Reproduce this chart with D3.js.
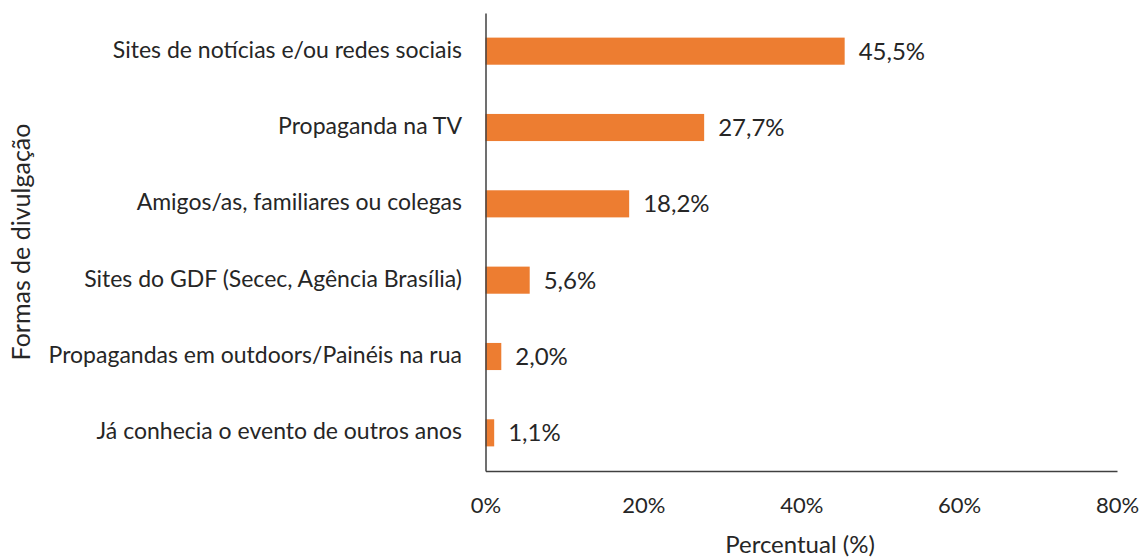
<!DOCTYPE html>
<html><head><meta charset="utf-8">
<script src="https://cdn.jsdelivr.net/npm/d3@7"></script>
<style>body{margin:0;background:#fff}svg{display:block}text{font-family:Lato,"Open Sans",sans-serif}</style>
</head><body><svg id="c" width="1143" height="558"></svg>
<script>
const categories = ["Sites de notícias e/ou redes sociais","Propaganda na TV","Amigos/as, familiares ou colegas","Sites do GDF (Secec, Agência Brasília)","Propagandas em outdoors/Painéis na rua","Já conhecia o evento de outros anos"];
const values = [45.5, 27.7, 18.2, 5.6, 2.0, 1.1];
const xTicks = [0, 20, 40, 60, 80];
const xTitle = "Percentual (%)";
const yTitle = "Formas de divulgação";

const svg = d3.select("#c");
const pLeft = 485.5, pRight = 1117, pTop = 13, pBottom = 471;
const x = d3.scaleLinear().domain([0, 80]).range([pLeft, pRight]);
const y = d3.scaleBand().domain(categories).range([pTop, pBottom]).paddingInner(0.645).paddingOuter(0.3225);
const fmt = v => v.toFixed(1).replace(".", ",") + "%";
const txt = "#262626";

svg.selectAll("rect.bar").data(values).enter().append("rect")
  .attr("x", x(0)).attr("y", (d,i) => y(categories[i]))
  .attr("width", d => x(d) - x(0)).attr("height", y.bandwidth())
  .attr("fill", "#ED7D31");

svg.selectAll("text.val").data(values).enter().append("text")
  .attr("x", d => x(d) + 14).attr("y", (d,i) => y(categories[i]) + y.bandwidth()/2)
  .attr("dy", "0.36em").attr("font-size", 24).attr("fill", txt).text(fmt);

const xa = svg.append("g").attr("transform", `translate(0,${pBottom})`)
  .call(d3.axisBottom(x).tickValues(xTicks).tickSize(0).tickPadding(26).tickFormat(d => d + "%"));
xa.select(".domain").attr("stroke", "#404040").attr("stroke-width", 1.5);
xa.selectAll("text").attr("font-size", 22).attr("fill", txt).attr("font-family", "Lato");

const ya = svg.append("g").attr("transform", `translate(${pLeft},0)`)
  .call(d3.axisLeft(y).tickSize(0).tickPadding(23.5));
ya.select(".domain").attr("stroke", "#404040").attr("stroke-width", 1.5);
ya.selectAll("text").attr("font-size", 23).attr("fill", txt).attr("font-family", "Lato").attr("dy", "0.28em");

svg.append("text").attr("x", 800).attr("y", 553).attr("text-anchor", "middle")
  .attr("font-size", 24).attr("fill", txt).text(xTitle);
svg.append("text").attr("transform", "translate(30,242) rotate(-90)").attr("text-anchor", "middle")
  .attr("font-size", 25).attr("fill", txt).text(yTitle);
</script></body></html>
